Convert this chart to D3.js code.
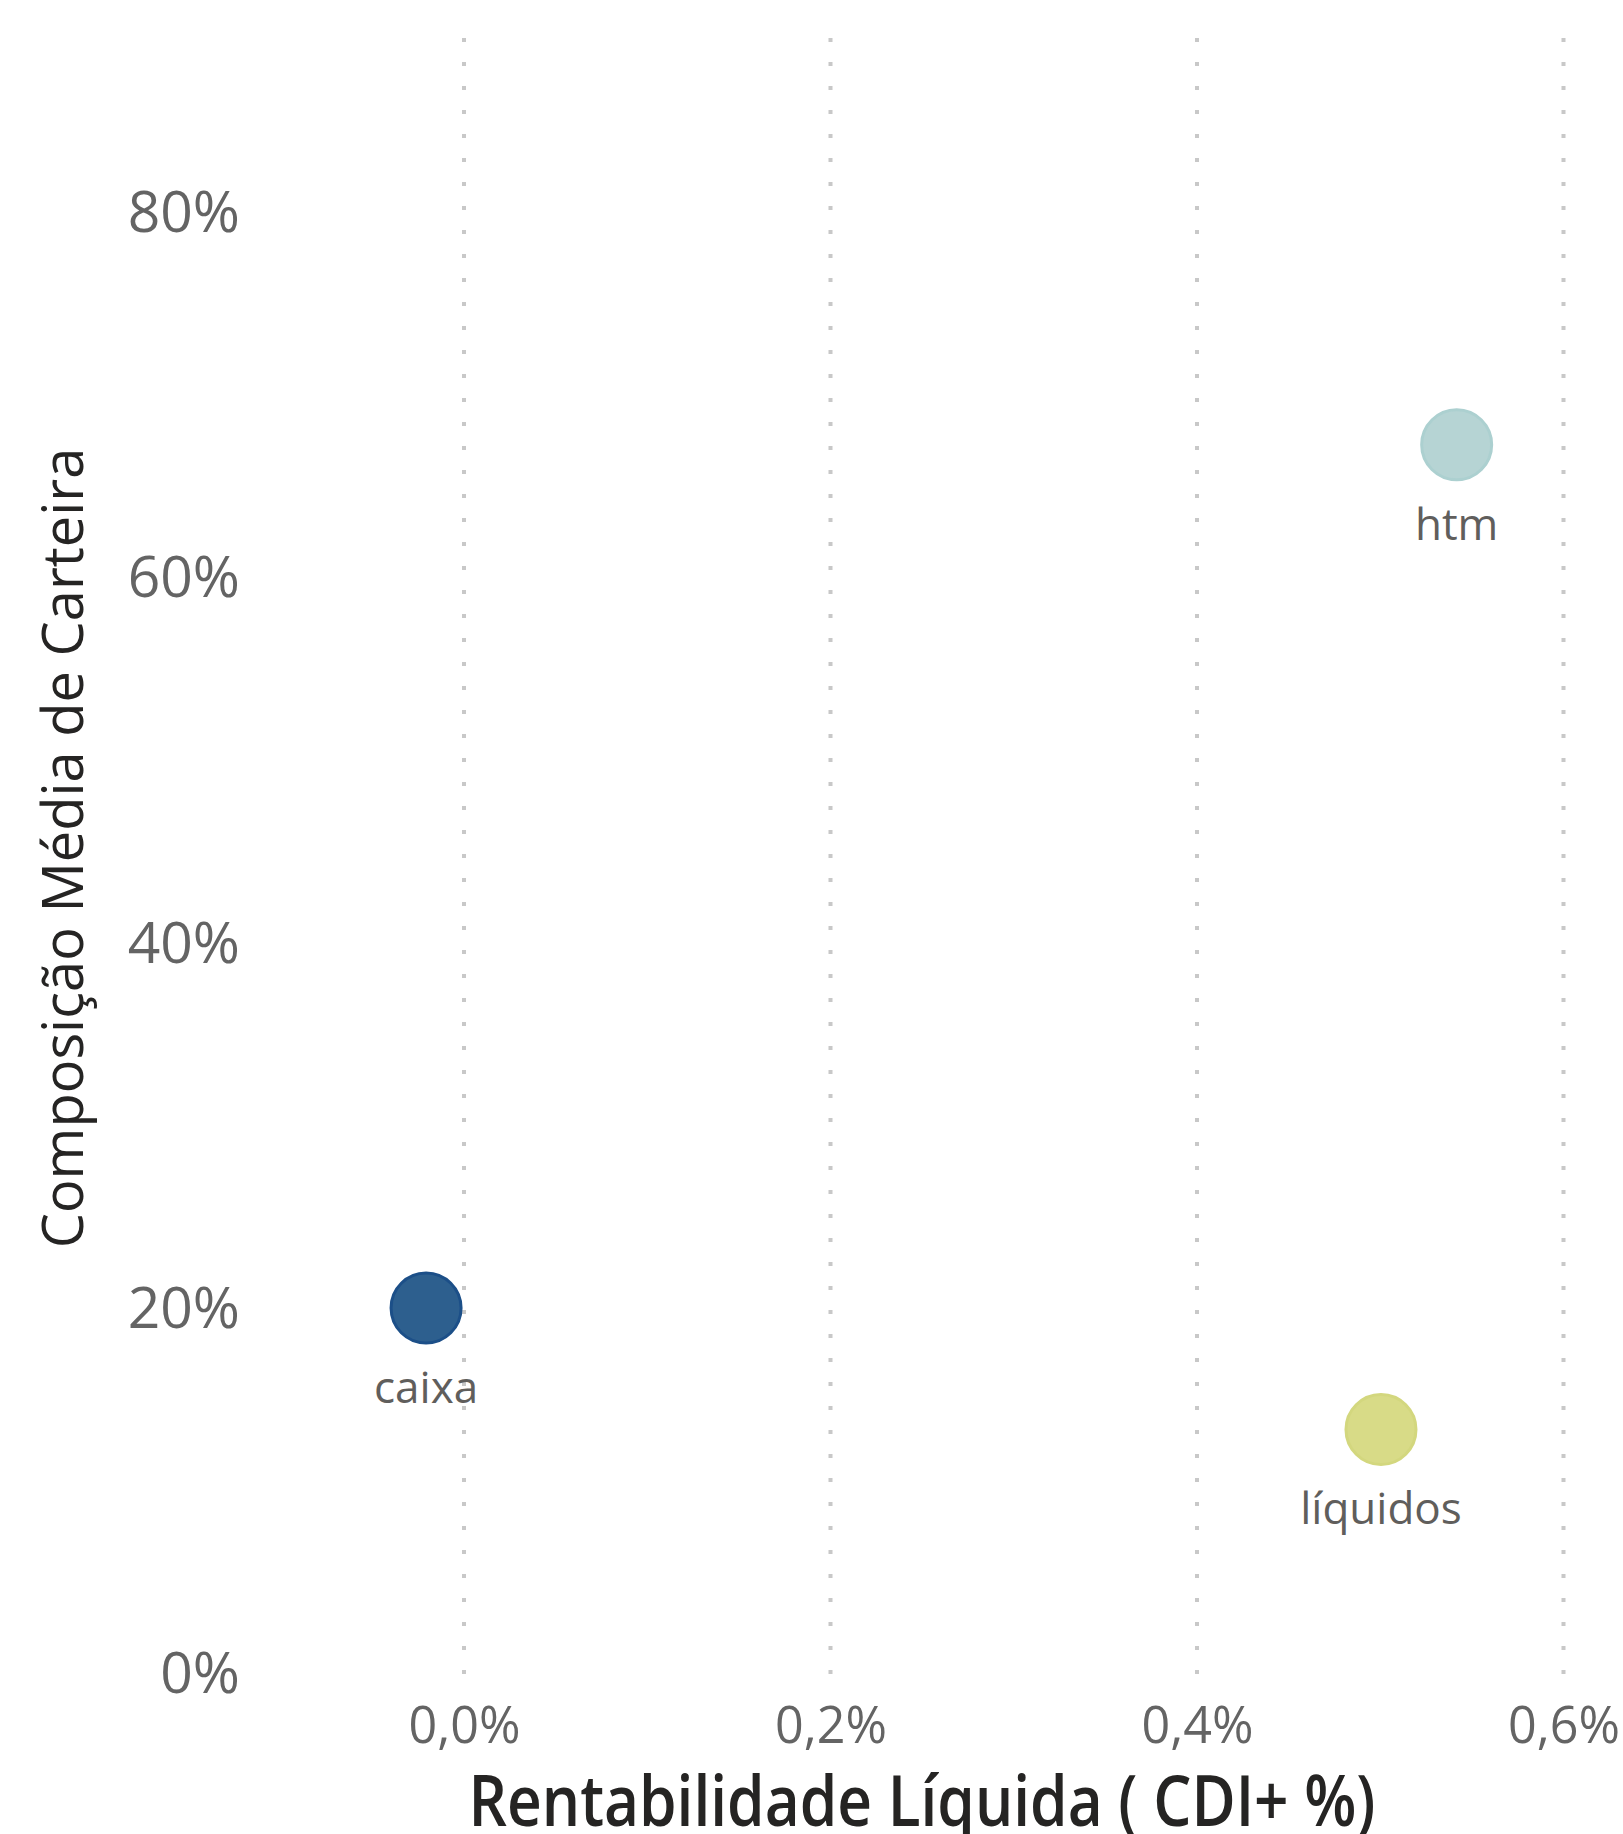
<!DOCTYPE html>
<html>
<head>
  <meta charset="utf-8">
  <script src="https://d3js.org/d3.v7.min.js"></script>
  <style>
    body {
      margin: 0;
      background-color: #ffffff;
    }
    .tick-label {
      font-family: "Open Sans", sans-serif;
      fill: #646464;
    }
    .axis-title {
      font-family: "Open Sans", sans-serif;
      fill: #252423;
    }
    .point-label {
      font-family: "Open Sans", sans-serif;
      font-size: 44px;
      fill: #605e5c;
    }
  </style>
</head>
<body>
  <svg id="chart" width="1623" height="1834"></svg>

  <script>
    // data
    const categorias = ["caixa", "htm", "líquidos"];
    const rentabilidade = [-0.000207, 0.005417, 0.005004];   // CDI+ %
    const composicao = [0.1993, 0.672, 0.1328];              // share of portfolio
    const fillColors = ["#2d5f8e", "#b6d4d4", "#d8db87"];
    const strokeColors = ["#1c4f88", "#acd0d0", "#d3d77e"];
    const xTicks = [0, 0.002, 0.004, 0.006];
    const yTicks = [0, 0.2, 0.4, 0.6, 0.8];

    const svg = d3.select('#chart');
    const plotTop = 38;

    const ptBR = d3.formatLocale({
      decimal: ",",
      thousands: ".",
      grouping: [3],
      currency: ["R$", ""]
    });
    const fmtX = ptBR.format(".1%");
    const fmtY = ptBR.format(".0%");

    const x = d3.scaleLinear()
      .domain([0, 0.006])
      .range([464, 1563.5]);

    const y = d3.scaleLinear()
      .domain([0, 0.8])
      .range([1672, 211]);

    // dotted vertical grid
    svg.append('g')
      .selectAll('line')
      .data(xTicks)
      .enter()
      .append('line')
      .attr('x1', d => x(d))
      .attr('x2', d => x(d))
      .attr('y1', plotTop)
      .attr('y2', y(0) + 3)
      .attr('stroke', '#c8c8c8')
      .attr('stroke-width', 4)
      .attr('stroke-dasharray', '4 20');

    // x axis
    const xAxis = svg.append('g')
      .attr('transform', `translate(0, ${y(0)})`)
      .call(d3.axisBottom(x).tickValues(xTicks).tickFormat(fmtX).tickSize(0));
    xAxis.select('.domain').remove();
    xAxis.selectAll('text')
      .attr('class', 'tick-label')
      .attr('font-size', 52)
      .attr('y', 0)
      .attr('dy', 71)
      .attr('textLength', 112)
      .attr('lengthAdjust', 'spacingAndGlyphs');

    // y axis
    const yAxis = svg.append('g')
      .attr('transform', 'translate(240, 0)')
      .call(d3.axisLeft(y).tickValues(yTicks).tickFormat(fmtY).tickSize(0));
    yAxis.select('.domain').remove();
    yAxis.selectAll('text')
      .attr('class', 'tick-label')
      .attr('font-size', 57)
      .attr('x', 0)
      .attr('dy', '0.36em');

    // points
    const points = categorias.map((c, i) => ({
      nome: c,
      x: rentabilidade[i],
      y: composicao[i],
      fill: fillColors[i],
      stroke: strokeColors[i]
    }));

    svg.selectAll('.dot')
      .data(points)
      .enter()
      .append('circle')
      .attr('class', 'dot')
      .attr('cx', d => x(d.x))
      .attr('cy', d => y(d.y))
      .attr('r', 35)
      .attr('fill', d => d.fill)
      .attr('stroke', d => d.stroke)
      .attr('stroke-width', 3);

    svg.selectAll('.point-label')
      .data(points)
      .enter()
      .append('text')
      .attr('class', 'point-label')
      .attr('x', d => x(d.x))
      .attr('y', d => y(d.y) + 95)
      .attr('text-anchor', 'middle')
      .text(d => d.nome);

    // axis titles
    svg.append('text')
      .attr('class', 'axis-title')
      .attr('x', 922)
      .attr('y', 1826)
      .attr('text-anchor', 'middle')
      .attr('font-size', 70)
      .attr('font-weight', 600)
      .attr('textLength', 907)
      .attr('lengthAdjust', 'spacingAndGlyphs')
      .text('Rentabilidade Líquida ( CDI+ %)');

    svg.append('text')
      .attr('class', 'axis-title')
      .attr('transform', 'translate(83, 848) rotate(-90)')
      .attr('text-anchor', 'middle')
      .attr('font-size', 56)
      .text('Composição Média de Carteira');
  </script>
</body>
</html>
